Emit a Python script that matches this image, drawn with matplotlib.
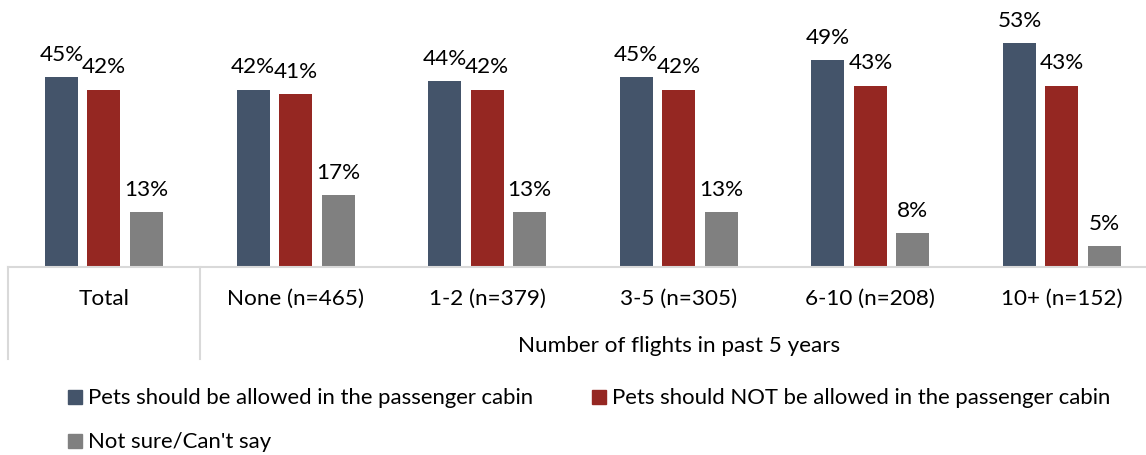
import matplotlib
matplotlib.use("Agg")
import matplotlib.pyplot as plt
from matplotlib.patches import Rectangle
import numpy as np

categories = ["Total", "None (n=465)", "1-2 (n=379)", "3-5 (n=305)", "6-10 (n=208)", "10+ (n=152)"]
series_names = ["Pets should be allowed in the passenger cabin",
                "Pets should NOT be allowed in the passenger cabin",
                "Not sure/Can't say"]
allowed = [45, 42, 44, 45, 49, 53]
not_allowed = [42, 41, 42, 42, 43, 43]
not_sure = [13, 17, 13, 13, 8, 5]
group_label = "Number of flights in past 5 years"
colors = ["#44546A", "#952722", "#808080"]

plt.rcParams['font.family'] = ['Lato', 'DejaVu Sans']
W, H = 1146, 456
fig = plt.figure(figsize=(W / 100, H / 100), dpi=100)

cat_w = 191.6
left_px = 8.2
base_px = 268
ax = fig.add_axes([left_px / W, (H - base_px) / H, cat_w * 6 / W, base_px / H])
px_per_pct = 4.22
ax.set_ylim(0, base_px / px_per_pct)
ax.set_xlim(-0.5, 5.5)

x = np.arange(len(categories))
off = 42.5 / cat_w
bw = 33 / cat_w
fs = 16.2
for i, (vals, c) in enumerate(zip([allowed, not_allowed, not_sure], colors)):
    xs = x + (i - 1) * off
    bars = ax.bar(xs, vals, width=bw, color=c, zorder=2)
    for b, v in zip(bars, vals):
        ax.annotate(f"{v}%", (b.get_x() + b.get_width() / 2, v), xytext=(0, 12.5),
                    textcoords="offset points", ha="center", va="baseline",
                    fontsize=fs, color="#000000")

for s in ["top", "right", "left"]:
    ax.spines[s].set_visible(False)
ax.spines["bottom"].set_color("#D9D9D9")
ax.spines["bottom"].set_linewidth(1.5)
ax.set_yticks([])
ax.set_xticks(x)
ax.set_xticklabels(categories, fontsize=fs)
ax.tick_params(axis="x", length=0, pad=15)

trans = ax.get_xaxis_transform()
line_len = (360 - base_px) / base_px
for xv in [-0.5, 0.5]:
    ax.plot([xv, xv], [0, -line_len], transform=trans, color="#D9D9D9",
            lw=1.5, clip_on=False)

ax.text(np.mean(x[1:]), -(346 - base_px) / base_px, group_label, transform=trans,
        ha="center", va="center", fontsize=fs)

# legend
leg_items = [(68, 398, 0), (592, 398, 1), (68, 442, 2)]
sq = 13.5
for lx, ly, k in leg_items:
    fig.patches.append(Rectangle((lx / W, (H - ly - sq / 2) / H), sq / W, sq / H,
                                 transform=fig.transFigure, color=colors[k]))
    fig.text((lx + sq + 6) / W, (H - ly) / H, series_names[k], ha="left",
             va="center", fontsize=15.9)

fig.savefig("out.png", dpi=100)
